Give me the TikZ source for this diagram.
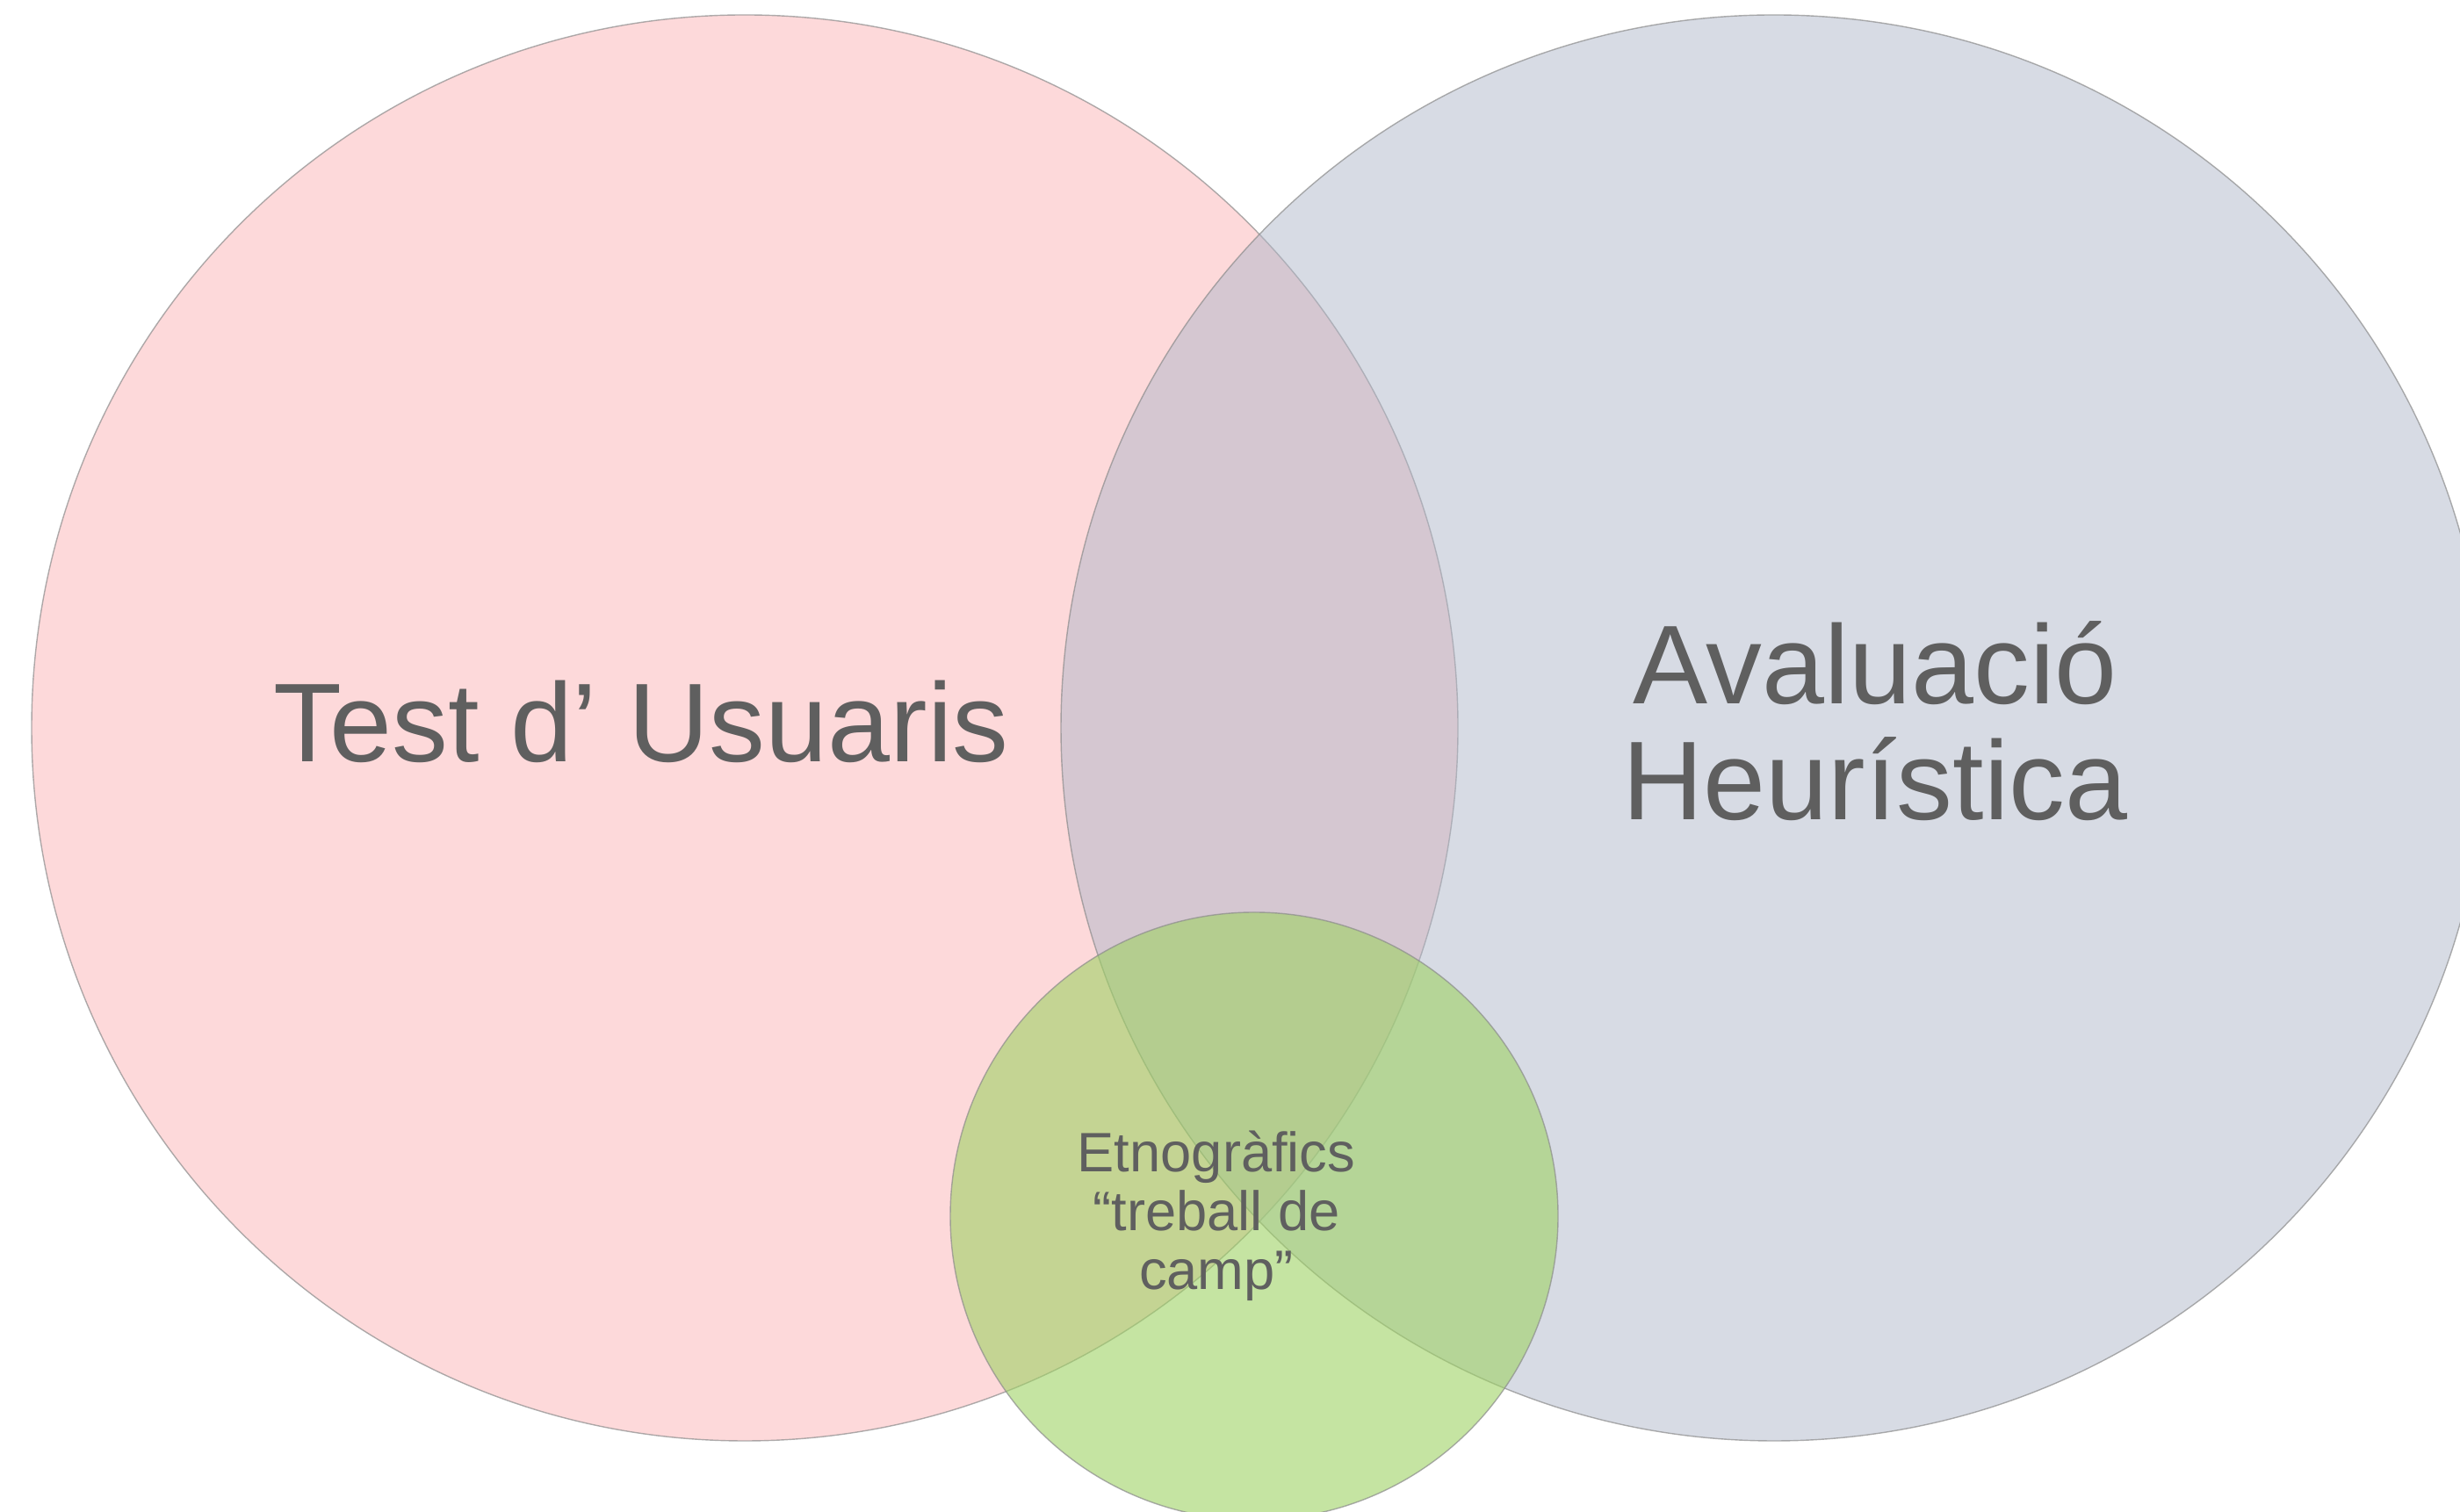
\documentclass[tikz,border=0pt]{standalone}
\usepackage{fontspec}
\setmainfont{Liberation Sans}
\usetikzlibrary{positioning}
\definecolor{setred}{HTML}{FDD9DA}
\definecolor{setblue}{HTML}{AFB7C9}
\definecolor{setgreen}{HTML}{9ED264}
\definecolor{settext}{HTML}{5F5F5F}

\begin{document}
\begin{tikzpicture}[set/.style={circle, inner sep=0pt, draw=black!45,
line width=0.4pt, draw opacity=0.7}, big/.style={text=settext,
font=\fontsize{36.3}{37.6}\selectfont, align=center},
small/.style={text=settext, font=\fontsize{18}{19.2}\selectfont,
align=center}]
\useasboundingbox (0,0) rectangle (28.01,17.21);
\clip (0,0) rectangle (28.01,17.21);
\node [set, fill=setred, minimum size=16.24cm] (usuaris) at (8.48,8.92) {};
\node [set, fill=setblue, fill opacity=0.5, minimum size=16.24cm] (heuristica)
[right = 11.72cm of usuaris.center, anchor=center] {};
\node [set, fill=setgreen, fill opacity=0.6, minimum size=6.92cm] (camp)
at (14.28,3.36) {};
\node [big, anchor=base] (t_usuaris) at (7.30,8.53) {Test d’ Usuaris};
\node [big, anchor=base] (t_heuristica) at (21.35,7.87) {Avaluació\\Heurística};
\node [small, anchor=base] (t_camp) at (13.85,2.52) {Etnogràfics\\“treball de\\camp”};
\end{tikzpicture}
\end{document}
